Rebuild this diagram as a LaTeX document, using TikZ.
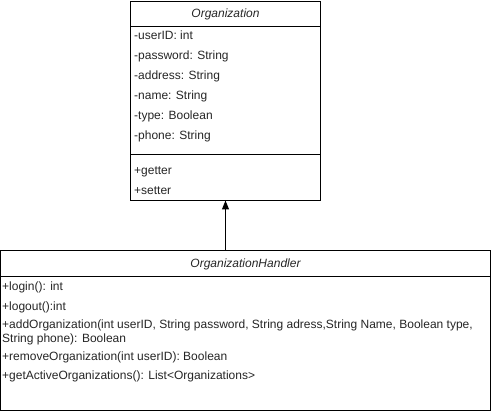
\documentclass[tikz,border=0pt]{standalone}
\usepackage{fontspec}
\setmainfont{Liberation Sans}
\usetikzlibrary{arrows.meta}
\tikzset{
  umlbox/.style={draw=black, line width=1pt, fill=white},
  umlline/.style={draw=black, line width=1pt},
  member/.style={anchor=base west, inner sep=0pt, font=\fontsize{12}{14}\selectfont, text=black!85},
  title/.style={anchor=base, inner sep=0pt, font=\fontsize{12}{14}\selectfont\itshape, text=black!85},
  inherit/.style={line width=1pt, -{Triangle[width=7pt,length=9pt]}}
}
\begin{document}
\begin{tikzpicture}[x=1pt,y=-1pt]
\useasboundingbox (0,0) rectangle (491,411);
% Organization class
\draw[umlbox] (130.5,1.5) rectangle (320.5,200.5);
\coordinate (orgTop) at (225.5,200.5);
\draw[umlline] (130.5,26.5) -- (320.5,26.5);
\draw[umlline] (130.5,154.5) -- (320.5,154.5);
\node[title] (orgT) at (225.5,18) {Organization};
\node[member] (o1) at (134,40) {-userID: int};
\node[member] (o2) at (134,60) {-password: String};
\node[member] (o3) at (134,80) {-address: String};
\node[member] (o4) at (134,100) {-name: String};
\node[member] (o5) at (134,120) {-type: Boolean};
\node[member] (o6) at (134,140) {-phone: String};
\node[member] (o7) at (134,175) {+getter};
\node[member] (o8) at (134,195) {+setter};
% OrganizationHandler class
\draw[umlbox] (0.5,250.5) rectangle (490.5,410.5);
\coordinate (hTop) at (225.5,250.5);
\draw[umlline] (0.5,276.5) -- (490.5,276.5);
\node[title] (hT) at (245.5,268) {OrganizationHandler};
\node[member] (h1) at (2,291) {+login(): int};
\node[member] (h2) at (2,311) {+logout():int};
\node[member] (h3) at (2,329) {+addOrganization(int userID, String password, String adress,String Name, Boolean type,};
\node[member] (h3b) at (2,343) {String phone): Boolean};
\node[member] (h4) at (2,361) {+removeOrganization(int userID): Boolean};
\node[member] (h5) at (2,380) {+getActiveOrganizations(): List<Organizations>};
% inheritance
\draw[inherit] (hTop) -- (orgTop);
\end{tikzpicture}
\end{document}
